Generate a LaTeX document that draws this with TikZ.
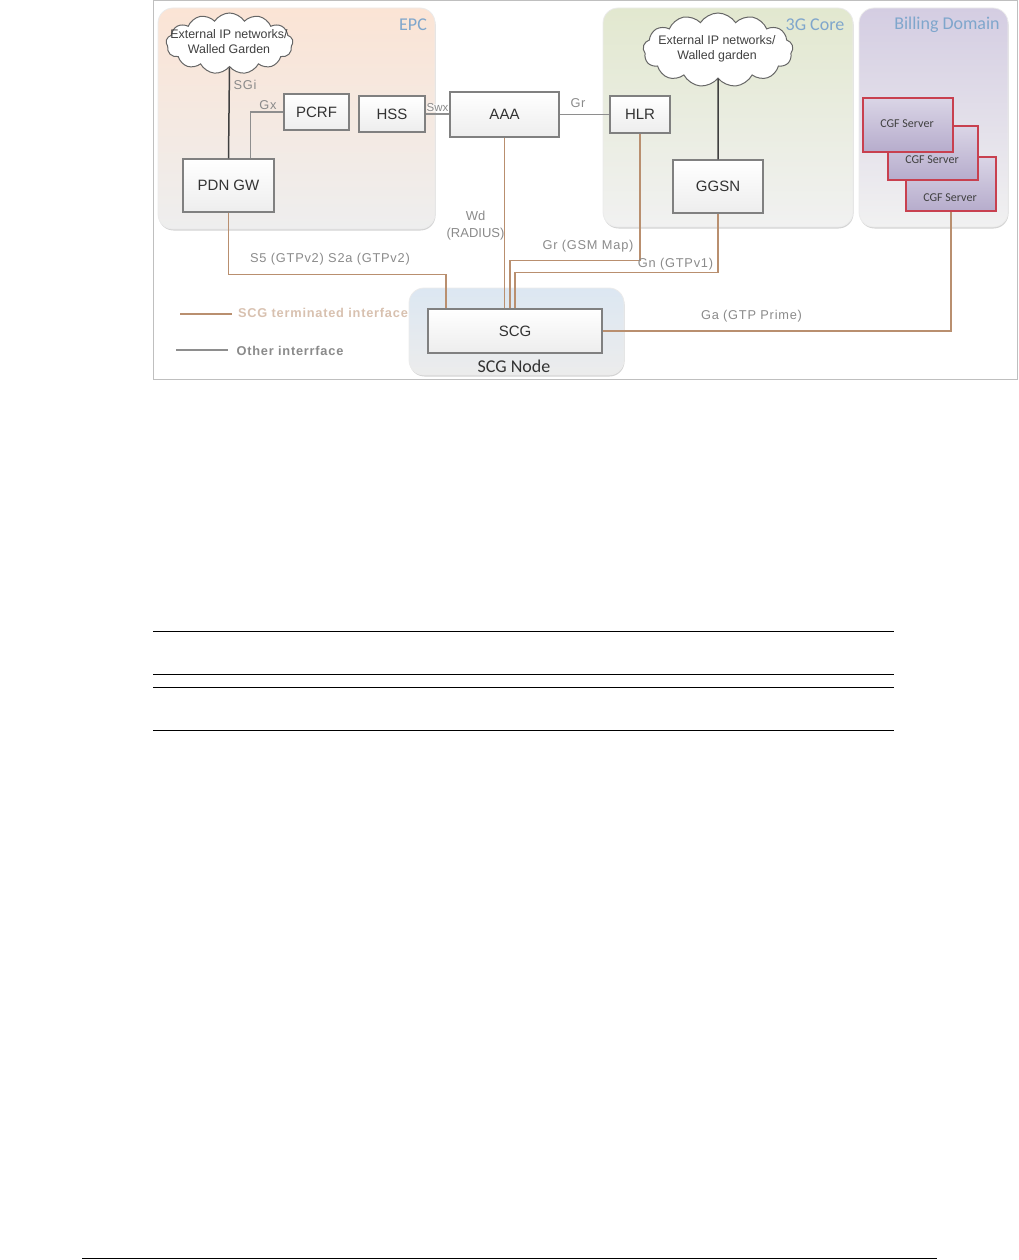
\documentclass[tikz,border=0pt]{standalone}
\usepackage{fontspec}
\setmainfont{Liberation Sans}
\newfontfamily\panelfont{Carlito}
\newfontfamily\linkfont[LetterSpace=6]{Liberation Sans}
\usetikzlibrary{shapes.symbols,shadows}
\definecolor{scgbrown}{HTML}{B98F6F}
\definecolor{otherline}{HTML}{8E8E8E}
\definecolor{darkline}{HTML}{3F3F3F}
\definecolor{titleblue}{HTML}{7FA6CC}
\definecolor{linkgray}{HTML}{8A8A8A}
\definecolor{epctop}{HTML}{FBE4D5}
\definecolor{coretop}{HTML}{E2E8CF}
\definecolor{billtop}{HTML}{D4CDE2}
\definecolor{scgtop}{HTML}{DCE7F2}
\definecolor{epcbot}{HTML}{EEEEEE}
\definecolor{corebot}{HTML}{F1F1F1}
\definecolor{scgbot}{HTML}{ECECEC}
\definecolor{cgfedge}{HTML}{C8404F}
\definecolor{cgftop}{HTML}{DAD5E6}
\definecolor{cgfbot}{HTML}{B6ACCC}
\tikzset{
  panel/.style={rounded corners=15pt, draw=black!8, line width=0.8pt, drop shadow={opacity=0.35, shadow xshift=0.5pt, shadow yshift=-1.5pt}},
  netbox/.style={draw=black!50, line width=1.3pt, top color=white, bottom color=black!7, inner sep=0pt, font=\fontsize{15}{16}\selectfont, text=black!80},
  cgfbox/.style={draw=cgfedge, line width=1.2pt, top color=cgftop, bottom color=cgfbot, inner sep=0pt},
  cgftext/.style={font=\panelfont\fontsize{12}{13}\selectfont, text=black!75},
  netcloud/.style={cloud, cloud puffs=13, cloud puff arc=115, cloud ignores aspect, draw=black!60, line width=1pt, fill=white, inner sep=0pt},
  cloudtext/.style={align=center, font=\fontsize{12.4}{15}\selectfont, text=black!75},
  paneltitle/.style={font=\panelfont\fontsize{18}{20}\selectfont, text=titleblue},
  linklabel/.style={font=\linkfont\fontsize{12.8}{17}\selectfont, text=linkgray, align=center, inner sep=0pt},
  scgwire/.style={draw=scgbrown, line width=1.5pt},
  otherwire/.style={draw=otherline, line width=1.3pt},
  darkwire/.style={draw=darkline, line width=1.5pt}
}
\begin{document}
\begin{tikzpicture}[x=1pt,y=-1pt]
    \useasboundingbox (0,0) rectangle (1018,1260);
    % frame
    \draw[black!25, line width=0.8pt] (153,379) -- (153,0.5) -- (1017.5,0.5) -- (1017.5,379) -- cycle;
    % panels
    \foreach \name/\cx/\cy/\w/\h/\topc/\botc in {epc/296.5/118.5/277/221/epctop/epcbot, core/728/117.5/250/219/coretop/corebot, bill/933.5/117.5/149/219/billtop/corebot, scgpanel/516.5/331.5/215/87/scgtop/scgbot} {
        \node[panel, minimum width=\w, minimum height=\h, top color=\topc, bottom color=\botc, inner sep=0pt] (\name) at (\cx,\cy) {};
    }
    \node[paneltitle] (epctitle) at (413,25) {EPC};
    \node[paneltitle] (coretitle) at (815,25) {3G Core};
    \node[paneltitle] (billtitle) at (947,25) {Billing Domain};
    \node[font=\panelfont\fontsize{18}{19}\selectfont, text=black!80] (scgname) at (514,366) {SCG Node};
    % boxes
    \foreach \name/\cx/\cy/\w/\h/\lab in {pcrf/316.5/112/65/36/PCRF, hss/392/114/66/36/HSS, aaa/504.5/114.5/109/45/AAA, pdn/228.5/185.5/91/53/PDN GW, scg/515/331/174/44/SCG, hlr/640/114.5/60/37/HLR, ggsn/718/186.5/90/53/GGSN} {
        \node[netbox, minimum width=\w, minimum height=\h] (\name) at (\cx,\cy) {\lab};
    }
    % servers
    \foreach \name/\cx/\cy in {cgfc/951/184, cgfb/933/153, cgfa/908/125} {
        \node[cgfbox, minimum width=90, minimum height=54] (\name) at (\cx,\cy) {};
    }
    \node[cgftext] (cgfatext) at (907,124) {CGF Server};
    \node[cgftext] (cgfbtext) at (932,160) {CGF Server};
    \node[cgftext] (cgfctext) at (950,198) {CGF Server};
    % clouds
    \node[netcloud, minimum width=127, minimum height=61] (epccloud) at (229.5,43.5) {};
    \node[cloudtext] (epccloudtext) at (229,42) {External IP networks/\\Walled Garden};
    \node[netcloud, minimum width=150, minimum height=74] (corecloud) at (718,50) {};
    \node[cloudtext] (corecloudtext) at (717,49) {External IP networks/\\Walled garden};
    % other interfaces
    \draw[darkwire] (epccloud.south) -- (pdn.north);
    \draw[darkwire] (corecloud.south) -- (ggsn.north);
    \draw[otherwire] (pcrf.west) -| ([xshift=22pt]pdn.north);
    \draw[otherwire] (hss.east) -- (aaa.west |- hss.east);
    \draw[otherwire] (aaa.east) -- (hlr.west);
    % SCG terminated
    \draw[scgwire] (pdn.south) -- ++(0,62) -| ([xshift=-69pt]scg.north);
    \draw[scgwire] (aaa.south) -- (aaa.south |- scg.north);
    \draw[scgwire] (hlr.south) -- ++(0,127) -| ([xshift=-5pt]scg.north);
    \draw[scgwire] (ggsn.south) -- ++(0,59) -| (scg.north);
    \draw[scgwire] (scg.east) -| (cgfc.south);
    % labels
    \node[linklabel] (sgi) at (245,85) {SGi};
    \node[linklabel] (gx) at (268,105) {Gx};
    \node[linklabel, fill=white, fill opacity=0.6, text opacity=1, font=\fontsize{11.5}{13}\selectfont] (swx) at (437.5,108) {Swx};
    \node[linklabel] (gr) at (578,103) {Gr};
    \node[linklabel, font=\fontsize{13}{17}\selectfont] (wd) at (475.5,225.5) {Wd\\(RADIUS)};
    \node[linklabel] (sfive) at (330,259) {S5 (GTPv2) S2a (GTPv2)};
    \node[linklabel] (grmap) at (588,246) {Gr (GSM Map)};
    \node[linklabel] (gn) at (675.5,264) {Gn (GTPv1)};
    \node[linklabel] (ga) at (751.5,316.5) {Ga (GTP Prime)};
    % legend
    \coordinate (scgkeya) at (180,314);
    \coordinate (scgkeyb) at (232,314);
    \coordinate (otherkeya) at (176,350);
    \coordinate (otherkeyb) at (228,350);
    \draw[scgwire, line width=1.7pt] (scgkeya) -- (scgkeyb);
    \draw[otherwire, line width=1.7pt] (otherkeya) -- (otherkeyb);
    \node[linklabel, text=scgbrown!55!white] (scgkey) at (323,313) {\bfseries SCG terminated interface};
    \node[linklabel] (otherkey) at (290,351) {\bfseries Other interrface};
    % rules
    \foreach \y in {631.5,674.5,687.5,730.5} {
        \draw[black, line width=0.8pt] (153,\y) -- (894,\y);
    }
    \draw[black, line width=1pt] (82,1258) -- (937,1258);
\end{tikzpicture}
\end{document}
